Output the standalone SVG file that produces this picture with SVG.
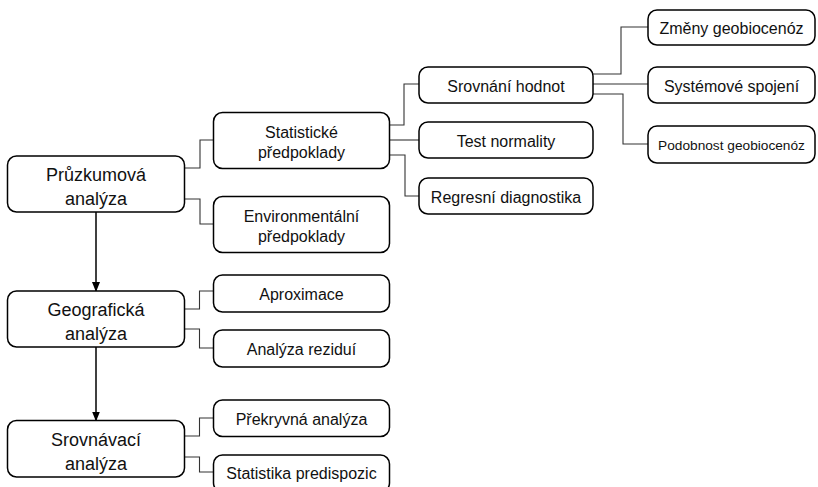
<svg xmlns="http://www.w3.org/2000/svg" width="818" height="487" viewBox="0 0 818 487">
<defs>
<marker id="ah" markerWidth="10" markerHeight="8" refX="9" refY="4" orient="auto" markerUnits="userSpaceOnUse">
<path d="M0,0 L10,4 L0,8 Z" fill="#000"/>
</marker>
</defs>
<style>
.box{fill:#fff;stroke:#000;stroke-width:1.5}
.t1{font-family:"Liberation Sans",Arial,sans-serif;font-size:18px;fill:#111;text-anchor:middle}
.t2{font-family:"Liberation Sans",Arial,sans-serif;font-size:16px;fill:#111;text-anchor:middle}
.t3{font-family:"Liberation Sans",Arial,sans-serif;font-size:13.7px;fill:#111;text-anchor:middle}
.c{fill:none;stroke:#333;stroke-width:1.1}
.a{fill:none;stroke:#000;stroke-width:1.5}
</style>
<rect width="818" height="487" fill="#fff"/>
<g id="connectors">
<polyline class="c" points="184.5,168 200,168 200,140 213.5,140"/>
<polyline class="c" points="184.5,199 200,199 200,224 213.5,224"/>
<polyline class="c" points="184.5,309 199.5,309 199.5,291 213.5,291"/>
<polyline class="c" points="184.5,329 199.5,329 199.5,348 213.5,348"/>
<polyline class="c" points="184.5,436 199.5,436 199.5,418 213.5,418"/>
<polyline class="c" points="184.5,457 199.5,457 199.5,472 213.5,472"/>
<polyline class="c" points="389.5,125 404,125 404,84 419,84"/>
<polyline class="c" points="389.5,140 419,140"/>
<polyline class="c" points="389.5,155 405,155 405,196 419,196"/>
<polyline class="c" points="593,74 621,74 621,27 648,27"/>
<polyline class="c" points="593,84 648,84"/>
<polyline class="c" points="593,94 623,94 623,144 648,144"/>
<line class="a" x1="96" y1="212" x2="96" y2="291" marker-end="url(#ah)"/>
<line class="a" x1="96" y1="347" x2="96" y2="420.5" marker-end="url(#ah)"/>
</g>
<g id="pruzkumova">
<rect class="box" x="7.5" y="156" width="177" height="56" rx="9"/>
<text class="t1" x="96" y="181">Průzkumová</text>
<text class="t1" x="96" y="204.5">analýza</text>
</g>
<g id="geograficka">
<rect class="box" x="7.5" y="291" width="177" height="56" rx="9"/>
<text class="t1" x="96" y="316">Geografická</text>
<text class="t1" x="96" y="339.5">analýza</text>
</g>
<g id="srovnavaci">
<rect class="box" x="7.5" y="420.5" width="177" height="56.5" rx="9"/>
<text class="t1" x="96" y="446">Srovnávací</text>
<text class="t1" x="96" y="469.5">analýza</text>
</g>
<g id="statisticke">
<rect class="box" x="213.5" y="112.5" width="176" height="56" rx="9"/>
<text class="t2" x="301.5" y="137.5">Statistické</text>
<text class="t2" x="301.5" y="158">předpoklady</text>
</g>
<g id="environmentalni">
<rect class="box" x="213.5" y="196.5" width="176" height="56" rx="9"/>
<text class="t2" x="301.5" y="221.5">Environmentální</text>
<text class="t2" x="301.5" y="242">předpoklady</text>
</g>
<g id="aproximace">
<rect class="box" x="213.5" y="275" width="176" height="37" rx="9"/>
<text class="t2" x="301.5" y="300">Aproximace</text>
</g>
<g id="analyza-rezidui">
<rect class="box" x="213.5" y="330" width="176" height="37" rx="9"/>
<text class="t2" x="301.5" y="355">Analýza reziduí</text>
</g>
<g id="prekryvna">
<rect class="box" x="213.5" y="400" width="176" height="36.5" rx="9"/>
<text class="t2" x="301.5" y="424.5">Překryvná analýza</text>
</g>
<g id="statistika-predispozic">
<rect class="box" x="213.5" y="455" width="176" height="37" rx="9"/>
<text class="t2" x="301.5" y="479">Statistika predispozic</text>
</g>
<g id="srovnani-hodnot">
<rect class="box" x="419" y="67" width="174" height="36" rx="9"/>
<text class="t2" x="506" y="91.5">Srovnání hodnot</text>
</g>
<g id="test-normality">
<rect class="box" x="419" y="122" width="174" height="36" rx="9"/>
<text class="t2" x="506" y="146.5">Test normality</text>
</g>
<g id="regresni-diagnostika">
<rect class="box" x="419" y="178" width="174" height="36" rx="9"/>
<text class="t2" x="506" y="202.5">Regresní diagnostika</text>
</g>
<g id="zmeny-geobiocenoz">
<rect class="box" x="648" y="10" width="167" height="35" rx="9"/>
<text class="t2" x="731.5" y="33.5">Změny geobiocenóz</text>
</g>
<g id="systemove-spojeni">
<rect class="box" x="648" y="67" width="167" height="36" rx="9"/>
<text class="t2" x="731.5" y="91.5">Systémové spojení</text>
</g>
<g id="podobnost-geobiocenoz">
<rect class="box" x="648" y="126" width="167" height="37" rx="9"/>
<text class="t3" x="731.5" y="149.5">Podobnost geobiocenóz</text>
</g>
</svg>
